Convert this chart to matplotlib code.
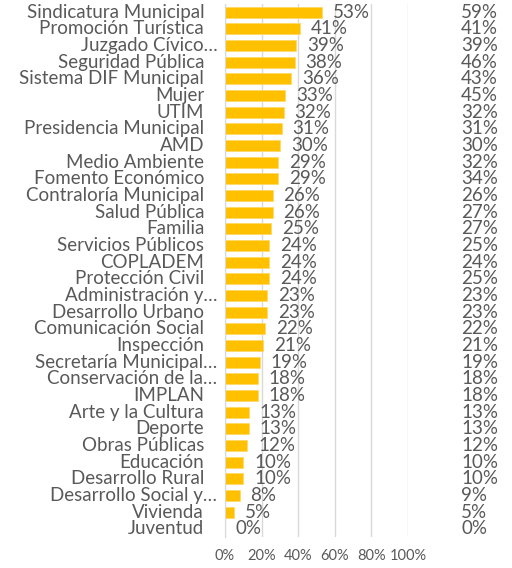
import matplotlib.pyplot as plt
from matplotlib.ticker import PercentFormatter

plt.rcParams["font.family"] = ["Lato", "DejaVu Sans"]

categories = [
    "Sindicatura Municipal", "Promoción Turística", "Juzgado Cívico…",
    "Seguridad Pública", "Sistema DIF Municipal", "Mujer", "UTIM",
    "Presidencia Municipal", "AMD", "Medio Ambiente", "Fomento Económico",
    "Contraloría Municipal", "Salud Pública", "Familia", "Servicios Públicos",
    "COPLADEM", "Protección Civil", "Administración y…", "Desarrollo Urbano",
    "Comunicación Social", "Inspección", "Secretaría Municipal…",
    "Conservación de la…", "IMPLAN", "Arte y la Cultura", "Deporte",
    "Obras Públicas", "Educación", "Desarrollo Rural", "Desarrollo Social y…",
    "Vivienda", "Juventud",
]
bar_values = [53, 41, 39, 38, 36, 33, 32, 31, 30, 29, 29, 26, 26, 25, 24, 24,
              24, 23, 23, 22, 21, 19, 18, 18, 13, 13, 12, 10, 10, 8, 5, 0]
right_values = [59, 41, 39, 46, 43, 45, 32, 31, 30, 32, 34, 26, 27, 27, 25, 24,
                25, 23, 23, 22, 21, 19, 18, 18, 13, 13, 12, 10, 10, 9, 5, 0]
x_ticks = [0, 20, 40, 60, 80, 100]

grey = "#595959"
fig = plt.figure(figsize=(5.12, 5.68), dpi=100)
ax = fig.add_axes([225 / 512, 1 - 537 / 568, 183 / 512, 533 / 568])

y = range(len(categories))
ax.barh(y, bar_values, height=0.66, color="#FFC000", edgecolor="#FFD966",
        linewidth=0.6, zorder=3)

for i, (v, r) in enumerate(zip(bar_values, right_values)):
    ax.text(v + 6, i, f"{v}%", va="center", ha="left", fontsize=13.5, color=grey)
    ax.text(129, i, f"{r}%", va="center", ha="left", fontsize=13.5, color=grey)

# category labels; truncated ones hang their ellipsis past the alignment edge
for i, cat in enumerate(categories):
    off = -5.5 if cat.endswith("…") else -15
    ax.annotate(cat, xy=(0, i), xycoords=ax.get_yaxis_transform(),
                xytext=(off, 0), textcoords="offset points",
                ha="right", va="center", fontsize=13.5, color=grey,
                annotation_clip=False)

ax.set_xlim(0, 100)
ax.set_ylim(len(categories) - 0.5, -0.5)
ax.set_yticks([])
ax.set_xticks(x_ticks)
ax.xaxis.set_major_formatter(PercentFormatter(decimals=0))
ax.tick_params(axis="x", length=0, pad=9, labelsize=10.5, labelcolor=grey)
ax.grid(axis="x", color="#D9D9D9", linewidth=1, zorder=0)
for s in ["top", "right", "bottom"]:
    ax.spines[s].set_visible(False)
ax.spines["left"].set_color("#D9D9D9")
ax.spines["left"].set_zorder(4)

fig.savefig("out.png", dpi=100)
